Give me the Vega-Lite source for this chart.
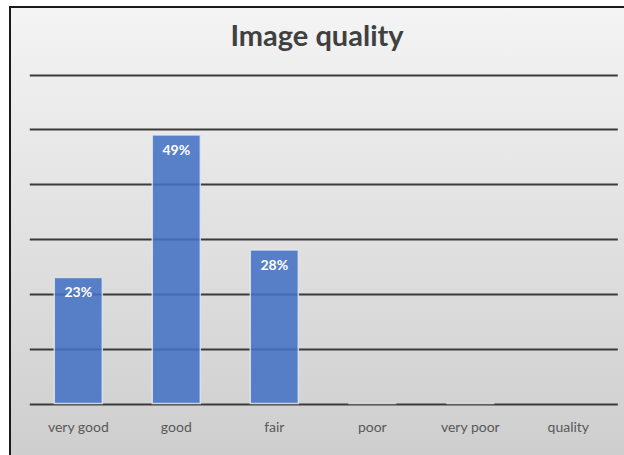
{
  "$schema": "https://vega.github.io/schema/vega-lite/v6.json",
  "width": 622,
  "height": 450,
  "autosize": {"type": "none"},
  "padding": {"left": 10, "top": 7, "right": 0, "bottom": 0},
  "background": "#ffffff",
  "view": {
    "fill": {
      "gradient": "linear",
      "x1": 0, "y1": 0, "x2": 0, "y2": 1,
      "stops": [
        {"offset": 0, "color": "#f4f4f4"},
        {"offset": 1, "color": "#cecece"}
      ]
    },
    "stroke": "#1a1a1a",
    "strokeWidth": 2
  },
  "title": {
    "text": "Image quality",
    "anchor": "middle",
    "orient": "top",
    "baseline": "top",
    "offset": -45,
    "dx": -4,
    "font": "Lato",
    "fontSize": 29,
    "fontWeight": "bold",
    "color": "#404040"
  },
  "data": {
    "values": [
      {"rating": "very good", "share": 0.23},
      {"rating": "good", "share": 0.49},
      {"rating": "fair", "share": 0.28},
      {"rating": "poor", "share": 0},
      {"rating": "very poor", "share": 0},
      {"rating": "quality", "share": null}
    ]
  },
  "encoding": {
    "x": {
      "field": "rating",
      "type": "nominal",
      "sort": ["very good", "good", "fair", "poor", "very poor", "quality"],
      "scale": {
        "domain": ["very good", "good", "fair", "poor", "very poor", "quality"],
        "range": [19.3, 607.3],
        "paddingInner": 0.51,
        "paddingOuter": 0.255
      },
      "axis": {
        "title": null,
        "domain": false,
        "ticks": false,
        "grid": false,
        "labelAngle": 0,
        "labelFont": "Lato",
        "labelFontSize": 14,
        "labelColor": "#595959",
        "labelPadding": 0,
        "offset": -37
      }
    },
    "y": {
      "field": "share",
      "type": "quantitative",
      "scale": {"domain": [0, 0.6], "range": [396.5, 67.7], "nice": false},
      "axis": {
        "title": null,
        "labels": false,
        "ticks": false,
        "domain": false,
        "grid": true,
        "gridColor": "#3a3a3a",
        "gridWidth": 2,
        "gridOpacity": 1,
        "values": [0, 0.1, 0.2, 0.3, 0.4, 0.5, 0.6]
      }
    }
  },
  "layer": [
    {
      "mark": {
        "type": "bar",
        "fill": "#4472c4",
        "fillOpacity": 0.88,
        "stroke": "#e4e8f0",
        "strokeWidth": 1.5,
        "strokeOpacity": 0.8
      }
    },
    {
      "transform": [{"filter": "datum.share > 0"}],
      "mark": {
        "type": "text",
        "baseline": "top",
        "align": "center",
        "dy": 9,
        "font": "Lato",
        "fontSize": 14,
        "fontWeight": "bold",
        "color": "#ffffff"
      },
      "encoding": {
        "text": {"field": "share", "type": "quantitative", "format": ".0%"}
      }
    }
  ]
}
